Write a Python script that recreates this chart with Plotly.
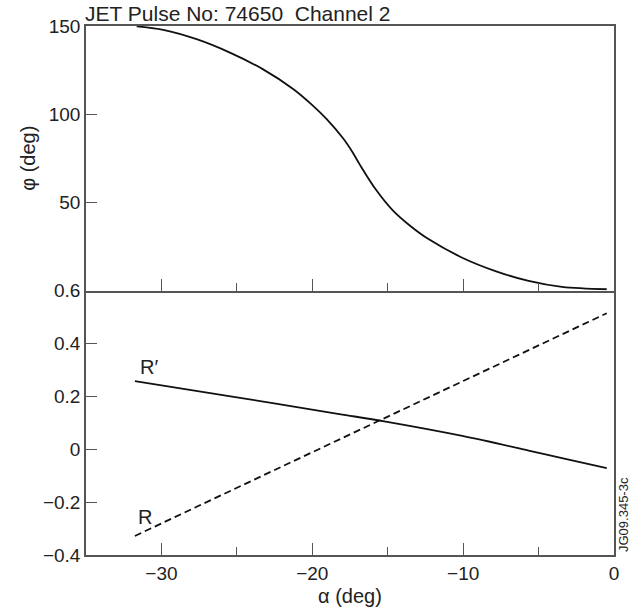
import plotly.graph_objects as go

# --- data ---
alpha_phi = [-31.64, -29.88, -27.67, -25.46, -23.26, -21.27, -19.98, -19.06, -17.96, -17.33,
             -16.85, -15.75, -14.65, -13.54, -12.27, -10.06, -7.86, -5.66, -3.45, -0.48]
phi = [149.8, 147.8, 142.5, 134.9, 125.4, 114.3, 105.0, 97.3, 86.3, 78.4,
       71.4, 56.8, 45.3, 36.9, 29.0, 18.6, 11.0, 5.4, 2.0, 0.7]

alpha_rp = [-31.76, -25.0, -18.21, -15.13, -10.06, -5.66, -3.45, -0.48]
r_prime = [0.257, 0.196, 0.133, 0.104, 0.050, -0.005, -0.034, -0.072]

alpha_r = [-31.76, -18.87, -0.48]
r_vals = [-0.328, 0.018, 0.514]

x_major = [-30, -20, -10, 0]
x_labels = ["\u221230", "\u221220", "\u221210", "0"]
x_minor = [-25, -15, -5]
phi_ticks = [50, 100, 150]
r_ticks = [-0.4, -0.2, 0, 0.2, 0.4, 0.6]
r_ticktext = ["\u22120.4", "\u22120.2", "0", "0.2", "0.4", "0.6"]

FONT = "Liberation Sans, Arial, Helvetica, sans-serif"
AX = "#555555"
LINE = "#111111"

fig = go.Figure()
fig.add_trace(go.Scatter(x=alpha_phi, y=phi, mode="lines",
                         line=dict(color=LINE, width=1.8, shape="spline", smoothing=1.0),
                         xaxis="x", yaxis="y", showlegend=False))
fig.add_trace(go.Scatter(x=alpha_rp, y=r_prime, mode="lines",
                         line=dict(color=LINE, width=1.8, shape="spline", smoothing=1.0),
                         xaxis="x2", yaxis="y2", showlegend=False))
fig.add_trace(go.Scatter(x=alpha_r, y=r_vals, mode="lines", line=dict(color=LINE, width=1.8, dash="7px,4px"),
                         xaxis="x2", yaxis="y2", showlegend=False))

common_x = dict(range=[-35, 0], showline=True, linecolor=AX, linewidth=1.5,
                ticks="inside", tickvals=x_major, ticklen=12, tickwidth=1.3, tickcolor=AX,
                minor=dict(tickvals=x_minor, ticks="inside", ticklen=8, tickwidth=1.3, tickcolor=AX),
                showgrid=False, zeroline=False, fixedrange=True, automargin=False)
common_y = dict(showline=True, linecolor=AX, linewidth=1.5, mirror=True,
                ticks="inside", ticklen=11, tickwidth=1.3, tickcolor=AX,
                showgrid=False, zeroline=False, fixedrange=True, automargin=False)

fig.update_layout(
    width=637, height=612,
    margin=dict(l=86, r=23, t=26, b=57),
    paper_bgcolor="white", plot_bgcolor="white",
    font=dict(family=FONT, size=19, color="#222222"),
    xaxis=dict(**common_x, mirror=True, domain=[0, 1], anchor="y", showticklabels=False),
    yaxis=dict(**common_y, domain=[0.5, 1], anchor="x", range=[0, 150], tickvals=phi_ticks,
               title=dict(text="\u03c6 (deg)", font=dict(size=20), standoff=8)),
    xaxis2=dict(**common_x, mirror=False, domain=[0, 1], anchor="y2", ticktext=x_labels,
                title=dict(text="\u03b1 (deg)", font=dict(size=20), standoff=6)),
    yaxis2=dict(**common_y, domain=[0, 0.5], anchor="x2", range=[-0.4, 0.6], tickvals=r_ticks,
                ticktext=r_ticktext),
    annotations=[
        dict(text="JET Pulse No: 74650 \u00a0Channel 2", xref="paper", yref="paper", x=0, y=1,
             xanchor="left", yanchor="bottom", showarrow=False, font=dict(size=21), xshift=-3, yshift=-1),
        dict(text="R\u2032", xref="x2", yref="y2", x=-30.8, y=0.309, showarrow=False, font=dict(size=20)),
        dict(text="R", xref="x2", yref="y2", x=-31.1, y=-0.256, showarrow=False, font=dict(size=20)),
        dict(text="JG09.345-3c", xref="paper", yref="paper", x=1, y=0, xanchor="left", yanchor="bottom",
             textangle=-90, showarrow=False, font=dict(size=13), xshift=0, yshift=1),
    ],
)

fig.write_html("out.html", config={"displayModeBar": False},
               post_script="document.body.style.margin='0';")
